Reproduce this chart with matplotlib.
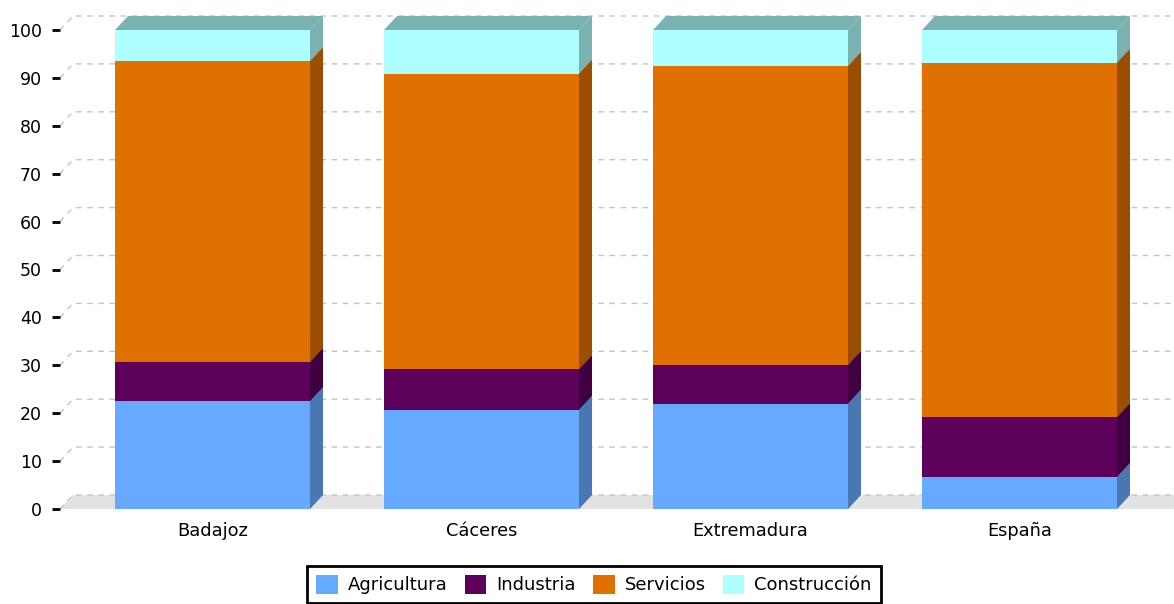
import matplotlib
matplotlib.use("Agg")
import matplotlib.pyplot as plt
from matplotlib.patches import Polygon, Patch
from matplotlib.lines import Line2D

categories = ["Badajoz", "Cáceres", "Extremadura", "España"]
series_names = ["Agricultura", "Industria", "Servicios", "Construcción"]
agricultura = [22.5, 20.7, 22.0, 6.7]
industria = [8.2, 8.5, 8.1, 12.5]
servicios = [62.8, 61.7, 62.4, 74.0]
construccion = [6.5, 9.1, 7.5, 6.8]
series_values = [agricultura, industria, servicios, construccion]

front_colors = ["#66aaff", "#5c005c", "#e07000", "#aeffff"]
side_colors = ["#4877b3", "#400040", "#9c4e00", "#7ab2b2"]

W, H = 1174, 604
fig = plt.figure(figsize=(W / 100, H / 100), dpi=100)

# plot area in pixels (front plane)
left_px, right_px = 60, 1174
bottom_px, top_px = 509, 16
px_per_unit = 4.79
cat_px = 269.0
first_center_px = 212.5
dx_px, dy_px = 13.0, 14.0

ax = fig.add_axes([left_px / W, (H - bottom_px) / H, (right_px - left_px) / W, (bottom_px - top_px) / H])
xl = (left_px - first_center_px) / cat_px
xr = (right_px - first_center_px) / cat_px
ytop = (bottom_px - top_px) / px_per_unit
ax.set_xlim(xl, xr)
ax.set_ylim(0, ytop)
dx = dx_px / cat_px
dy = dy_px / px_per_unit
bw = 195.0 / cat_px

for s in ax.spines.values():
    s.set_visible(False)

# floor
floor = Polygon([(xl, 0), (xl + dx, dy), (xr, dy), (xr, 0)], closed=True,
                facecolor="#e2e2e2", edgecolor="none", zorder=0, clip_on=False)
ax.add_patch(floor)

# gridlines on back wall
for v in range(0, 101, 10):
    ax.add_line(Line2D([xl, xl + dx, xr], [v, v + dy, v + dy], color="#c4c4c4",
                       lw=1.0, ls=(0, (4, 4)), zorder=0.5, clip_on=False))

# bars
for i, cat in enumerate(categories):
    base = 0.0
    x0 = i - bw / 2
    x1 = i + bw / 2
    for k, vals in enumerate(series_values):
        h = vals[i]
        y0, y1 = base, base + h
        side = Polygon([(x1, y0), (x1 + dx, y0 + dy), (x1 + dx, y1 + dy), (x1, y1)],
                       closed=True, facecolor=side_colors[k], edgecolor="none", zorder=2 + k * 0.1, clip_on=False)
        top = Polygon([(x0, y1), (x0 + dx, y1 + dy), (x1 + dx, y1 + dy), (x1, y1)],
                      closed=True, facecolor=side_colors[k], edgecolor="none", zorder=2 + k * 0.1, clip_on=False)
        front = Polygon([(x0, y0), (x1, y0), (x1, y1), (x0, y1)], closed=True,
                        facecolor=front_colors[k], edgecolor="none", zorder=2.05 + k * 0.1, clip_on=False)
        ax.add_patch(side)
        ax.add_patch(top)
        ax.add_patch(front)
        base = y1

ax.set_yticks(range(0, 101, 10))
ax.set_yticklabels([str(v) for v in range(0, 101, 10)])
ax.tick_params(axis="y", length=6, width=2, color="black", pad=7, labelsize=12.5)
ax.set_xticks(range(len(categories)))
ax.set_xticklabels(categories)
ax.tick_params(axis="x", length=0, pad=9, labelsize=12.8)

handles = [Patch(facecolor=c, edgecolor="none") for c in front_colors]
leg = fig.legend(handles, series_names, loc="upper center", ncol=4,
                 bbox_to_anchor=(594 / W, 1 - 566 / H), fontsize=13,
                 frameon=True, fancybox=False, framealpha=1.0,
                 handlelength=1.2, handleheight=1.2,
                 handletextpad=0.55, columnspacing=0.95, borderpad=0.5, borderaxespad=0)
leg.get_frame().set_edgecolor("black")
leg.get_frame().set_linewidth(2)

fig.savefig("out.png", dpi=100)
